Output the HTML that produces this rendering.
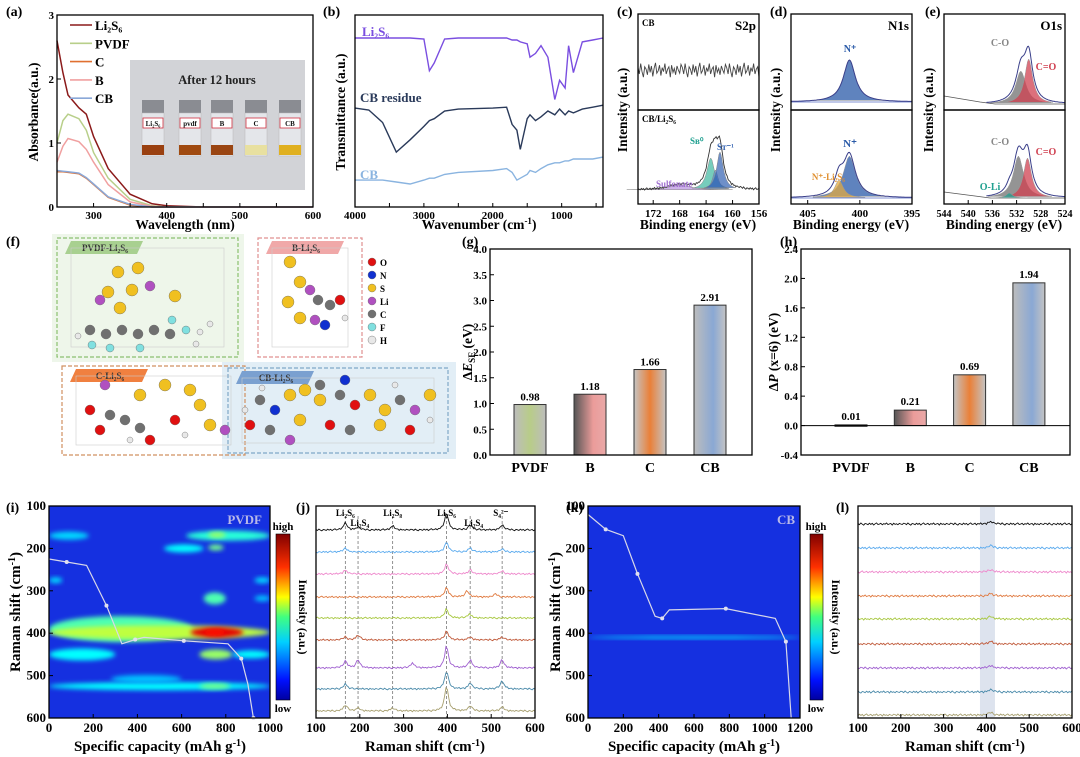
<!DOCTYPE html>
<html><head><meta charset="utf-8"><title>Li2S6 adsorption figure</title>
<style>
html,body{margin:0;padding:0;background:#fff;}
svg{display:block;font-family:"Liberation Serif","Noto Serif CJK SC",serif;font-weight:bold;}
</style></head>
<body>
<svg id="fig" width="1080" height="757" viewBox="0 0 1080 757" xmlns="http://www.w3.org/2000/svg">
<defs>
<filter id="blur" x="-20%" y="-50%" width="140%" height="200%"><feGaussianBlur stdDeviation="2.5"/></filter>
<linearGradient id="jetGrad" x1="0" y1="1" x2="0" y2="0">
<stop offset="0" stop-color="#0000a0"/><stop offset="0.12" stop-color="#0010ff"/><stop offset="0.35" stop-color="#00d0ff"/><stop offset="0.5" stop-color="#40ff80"/><stop offset="0.62" stop-color="#ffff00"/><stop offset="0.8" stop-color="#ff3000"/><stop offset="1" stop-color="#800000"/>
</linearGradient>
<linearGradient id="gPVDF" x1="0" x2="1"><stop offset="0" stop-color="#bdbdbd"/><stop offset="0.5" stop-color="#b8cc88"/><stop offset="1" stop-color="#bdbdbd"/></linearGradient>
<linearGradient id="gB" x1="0" x2="1"><stop offset="0" stop-color="#555"/><stop offset="0.6" stop-color="#eb9c9a"/><stop offset="1" stop-color="#e9a9a8"/></linearGradient>
<linearGradient id="gC" x1="0" x2="1"><stop offset="0" stop-color="#c4c4c4"/><stop offset="0.5" stop-color="#ea8038"/><stop offset="1" stop-color="#c4c4c4"/></linearGradient>
<linearGradient id="gCB" x1="0" x2="1"><stop offset="0" stop-color="#bdbdbd"/><stop offset="0.6" stop-color="#8aa8d4"/><stop offset="1" stop-color="#c4c4c4"/></linearGradient>
<clipPath id="clipI"><rect x="49" y="506" width="221" height="212"/></clipPath>
<clipPath id="clipK"><rect x="588" y="506" width="212" height="212"/></clipPath>
</defs>

<g font-size="14">
<text x="6" y="16">(a)</text><text x="323" y="16">(b)</text><text x="617" y="16">(c)</text>
<text x="770" y="16">(d)</text><text x="925" y="16">(e)</text>
<text x="6" y="246">(f)</text><text x="462" y="246">(g)</text><text x="780" y="246">(h)</text>
<text x="6" y="512">(i)</text><text x="296" y="512">(j)</text><text x="566" y="512">(k)</text><text x="836" y="512">(l)</text>
</g>

<g id="photo">
<rect x="130" y="60" width="175" height="130" fill="#d2d3d7"/>
<text x="217" y="84" font-size="12.5" text-anchor="middle" fill="#222">After 12 hours</text>
</g>

<g id="layer"></g>

<g font-size="13.5" fill="#000">
<text x="185" y="229" text-anchor="middle">Wavelength (nm)</text>
<text transform="translate(38,112) rotate(-90)" text-anchor="middle">Absorbance(a.u.)</text>
<text x="479" y="229" text-anchor="middle">Wavenumber (cm<tspan font-size="9" dy="-5">-1</tspan><tspan dy="5">)</tspan></text>
<text transform="translate(345,112) rotate(-90)" text-anchor="middle">Transmittance (a.u.)</text>
<text transform="translate(627,110) rotate(-90)" text-anchor="middle">Intensity (a.u.)</text>
<text transform="translate(780,110) rotate(-90)" text-anchor="middle">Intensity (a.u.)</text>
<text transform="translate(933,110) rotate(-90)" text-anchor="middle">Intensity (a.u.)</text>
<text x="698" y="229" text-anchor="middle">Binding energy (eV)</text>
<text x="851" y="229" text-anchor="middle">Binding energy (eV)</text>
<text x="1004" y="229" text-anchor="middle">Binding energy (eV)</text>
<text transform="translate(472,352) rotate(-90)" text-anchor="middle">Δ<tspan font-style="italic">E</tspan><tspan font-size="9" dy="3">SE</tspan><tspan dy="-3"> (eV)</tspan></text>
<text transform="translate(778,352) rotate(-90)" text-anchor="middle">Δ<tspan font-style="italic">P</tspan> (x=6) (eV)</text>
<text transform="translate(20,612) rotate(-90)" text-anchor="middle" font-size="15">Raman shift (cm<tspan font-size="10" dy="-5">-1</tspan><tspan dy="5">)</tspan></text>
<text transform="translate(560,612) rotate(-90)" text-anchor="middle" font-size="15">Raman shift (cm<tspan font-size="10" dy="-5">-1</tspan><tspan dy="5">)</tspan></text>
<text x="160" y="751" text-anchor="middle" font-size="15">Specific capacity (mAh g<tspan font-size="10" dy="-5">-1</tspan><tspan dy="5">)</tspan></text>
<text x="694" y="751" text-anchor="middle" font-size="15">Specific capacity (mAh g<tspan font-size="10" dy="-5">-1</tspan><tspan dy="5">)</tspan></text>
<text x="425" y="751" text-anchor="middle" font-size="15">Raman shift (cm<tspan font-size="10" dy="-5">-1</tspan><tspan dy="5">)</tspan></text>
<text x="965" y="751" text-anchor="middle" font-size="15">Raman shift (cm<tspan font-size="10" dy="-5">-1</tspan><tspan dy="5">)</tspan></text>
<text transform="translate(299,617) rotate(90)" text-anchor="middle" font-size="12">Intensity (a.u.)</text>
<text transform="translate(832,617) rotate(90)" text-anchor="middle" font-size="12">Intensity (a.u.)</text>
</g>

<g>
<rect x="276" y="534" width="14" height="166" fill="url(#jetGrad)" stroke="#000" stroke-width="0.6"/>
<text x="283" y="530" font-size="11" text-anchor="middle">high</text>
<text x="283" y="712" font-size="11" text-anchor="middle">low</text>
</g>
<g>
<rect x="810" y="534" width="13" height="166" fill="url(#jetGrad)" stroke="#000" stroke-width="0.6"/>
<text x="816" y="530" font-size="11" text-anchor="middle">high</text>
<text x="816" y="712" font-size="11" text-anchor="middle">low</text>
</g>

<script>
const absWl = [250,258,265,280,290,300,320,350,380,400,450,600];
const absLi2S6 = [2.6,2.1,1.75,1.55,1.45,1.1,0.6,0.2,0.05,0.02,0.0,0.0];
const absPVDF  = [1.0,1.35,1.45,1.38,1.2,0.85,0.45,0.12,0.02,0.0,0.0,0.0];
const absC     = [0.55,0.55,0.54,0.52,0.45,0.35,0.15,0.03,0.0,0.0,0.0,0.0];
const absB     = [0.7,0.95,1.07,1.02,0.9,0.7,0.35,0.08,0.01,0.0,0.0,0.0];
const absCB    = [0.57,0.56,0.55,0.53,0.46,0.36,0.16,0.04,0.0,0.0,0.0,0.0];

const irWn = [4000,3800,3600,3400,3200,3000,2920,2850,2700,2500,2000,1800,1720,1650,1600,1500,1460,1380,1300,1200,1100,1030,950,900,830,700,550,400];
const irLi2S6 = [88,88,88,88,88,87.5,71,75,87.5,88,88,88,87,87,86,85,78,80,84,78,56,66,62,84,70,86,87,88];
const irCBres = [51.5,50.5,44,28.6,35,42,45,46,50,51,51.5,52,43,40,30,46,48,45,47,50,48,51,48,50,49,51,52,53];
const irCB    = [14,14,14,13,12,14,15,15,17,18,19,20,18,14,15,17,19,18,20,22,23,23,24,24,25,25,25,26];
const FTIR_NAMES = ['Li2S6','CB residue','CB'];

const barCats = ['PVDF','B','C','CB'];
const esEnergy = [0.98,1.18,1.66,2.91];
const dPEnergy = [0.01,0.21,0.69,1.94];
const barTicksG = [0,0.5,1,1.5,2,2.5,3,3.5,4];
const barTicksH = [-0.4,0,0.4,0.8,1.2,1.6,2.0,2.4];

const s2pBottom = [[168,5,2.0],[163.3,32,0.7],[162.6,20,0.5],[161.9,38,0.6]];
const n1sTop = [[401,42,0.7]];
const n1sBottom = [[401,42,0.7],[402,18,0.5]];
const o1sTop = [[531.3,33,1.0],[530,45,0.8]];
const o1sBottom = [[531.7,42,1.0],[530.2,40,0.8],[533.2,5,0.6]];

const hmPVDF = [
 [0,650,390,0.4,13],[0,1000,398,0.55,7],[640,880,398,1.0,5],[700,800,398,0.95,3],
 [0,300,450,0.3,6],[680,830,450,0.5,5],[830,1000,450,0.3,4],
 [0,180,170,0.25,4],[620,1000,170,0.35,5],[720,800,168,0.5,3],
 [520,700,200,0.3,4],[720,790,198,0.45,3],
 [700,800,318,0.4,6],[930,1000,318,0.22,3],
 [0,1000,525,0.3,4],[680,820,525,0.45,3],[0,60,275,0.25,3],[930,1000,275,0.25,3],[280,600,508,0.22,4]];
const hmCB = [[0,1200,410,0.25,1.5]];
const vPVDFcap = [0,80,170,260,330,390,430,610,810,870,900,925];
const vPVDFsh  = [225,232,240,335,425,415,410,418,425,460,520,600];
const vCBcap = [0,100,200,280,380,420,460,780,1060,1120,1150];
const vCBsh  = [120,155,170,260,360,365,345,342,365,420,600];

const ramanBase = [530,552,574,597,618,640,668,689,711];
const ramanColors = ['#111','#5aaaee','#ee88cc','#e07a40','#a8c840','#c05a3a','#a060d0','#4a8aaa','#a8a070'];
const ramanPeaks = [
 [[167,7],[196,3],[275,4],[398,17],[452,5],[525,5]],
 [[167,4],[398,10],[452,4],[525,3]],
 [[167,4],[398,10],[452,4],[525,3]],
 [[398,9],[445,6],[510,3]],
 [[398,9],[450,4]],
 [[167,3],[196,5],[398,9],[452,3],[525,3]],
 [[167,7],[196,8],[320,5],[398,22],[452,8],[525,8]],
 [[167,5],[398,18],[452,6],[525,8]],
 [[167,6],[196,3],[275,3],[398,25],[452,5],[525,4]]];
const ramanMarks = [167,196,275,398,452,525];
const lBase = [524,548,572,596,619,644,668,692,715];

const JIT=[0.3,-0.5,0.8,-0.2,-0.9,0.4,0.1,-0.6,0.7,-0.3,0.5,-0.8,0.2,0.9,-0.4,-0.1,0.6,-0.7,0.3,-0.2,0.8,-0.5,0.1,0.4,-0.9,0.6,-0.3,0.2,-0.6,0.5,0.0,-0.4,0.7];

const NS='http://www.w3.org/2000/svg';
const layer=document.getElementById('layer');
function el(tag,attrs,parent){const e=document.createElementNS(NS,tag);for(const k in attrs)e.setAttribute(k,attrs[k]);(parent||layer).appendChild(e);return e;}
function pd(xs,ys,fx,fy){return xs.map((x,i)=>(i?'L':'M')+fx(x).toFixed(1)+','+fy(ys[i]).toFixed(1)).join('');}
function spec(x0,x1,n,peaks,noise,off,wdef){const xs=[],ys=[];for(let i=0;i<=n;i++){const x=x0+(x1-x0)*i/n;let y=0;peaks.forEach(p=>{const w=p[2]||wdef;y+=p[1]/(1+((x-p[0])/w)**2);});y+=noise*JIT[(i+off)%JIT.length];xs.push(x);ys.push(y);}return [xs,ys];}
function txt(x,y,s,size,anchor,fill,parent){const t=el('text',{x:x,y:y,'font-size':size,'text-anchor':anchor||'middle',fill:fill||'#000'},parent);t.textContent=s;return t;}
function frame(x,y,w,h,name){const r=el('rect',{x:x,y:y,width:w,height:h,fill:'none',stroke:'#000','stroke-width':1.3});

return r;}
function xTicks(vals,fx,yb,labels,ly,size){vals.forEach((v,i)=>{el('line',{x1:fx(v),x2:fx(v),y1:yb,y2:yb-4,stroke:'#000','stroke-width':1});if(labels)txt(fx(v),ly,labels[i],size||11);});}
function yTicks(vals,fy,xl,labels,size){vals.forEach((v,i)=>{el('line',{x1:xl,x2:xl+4,y1:fy(v),y2:fy(v),stroke:'#000','stroke-width':1});if(labels)txt(xl-3,fy(v)+4,labels[i],size||11,'end');});}

// (a)
const ax=w=>57+(w-250)*(256/350), ay=v=>207-v*64;
const absSeries=[[absLi2S6,'#8b1a1a','Li₂S₆','uv-li2s6'],[absPVDF,'#b8cf8a','PVDF','uv-pvdf'],[absC,'#e07030','C','uv-c'],[absB,'#f0a0a0','B','uv-b'],[absCB,'#8aa8d8','CB','uv-cb']];
absSeries.forEach((s,i)=>{
 const p=el('path',{d:pd(absWl,s[0],ax,ay),fill:'none',stroke:s[1],'stroke-width':1.5});
 
 
 const ly=25+i*18.3;
 const l=el('line',{x1:70,x2:92,y1:ly,y2:ly,stroke:s[1],'stroke-width':1.6});
 
 
 const t=txt(95,ly+5,s[2],13,'start');
 
 
});
frame(57,15,256,192,'uv-axes');
xTicks([300,400,500,600],ax,207,['300','400','500','600'],219);
xTicks([350,450,550],ax,207,null);
yTicks([0,1,2,3],ay,57,['0','1','2','3']);
const photo=document.getElementById('photo');
const vialX=[153,190,222,256,290], vialLab=['Li₂S₆','pvdf','B','C','CB'], vialLiq=['#9a4010','#a04a10','#9a4512','#e8e0a0','#e0b020'];
vialX.forEach((x,i)=>{
 const g=el('g',{},photo);
 
 
 el('rect',{x:x-11,y:100,width:22,height:13,fill:'#8a8c92'},g);
 el('rect',{x:x-11,y:113,width:22,height:43,fill:'#e4e6ea',stroke:'#b8b8b8','stroke-width':0.5},g);
 el('rect',{x:x-11,y:145,width:22,height:10,fill:vialLiq[i]},g);
 el('rect',{x:x-10,y:118,width:20,height:10,fill:'#fff',stroke:'#d03040','stroke-width':0.8},g);
 txt(x,126,vialLab[i],7,'middle','#111',g);
});

// (b)
const bx=w=>355+(4000-w)*(248/3600), by=v=>207-v*1.92;
[[irLi2S6,'#7a4ee0'],[irCBres,'#2a3a5a'],[irCB,'#8ab4e0']].forEach((s,i)=>{
 const p=el('path',{d:pd(irWn,s[0],bx,by),fill:'none',stroke:s[1],'stroke-width':1.4});
 
 
});
txt(362,36,'Li₂S₆',13,'start','#7a4ee0');
txt(360,102,'CB residue',13,'start','#2a3a5a');
txt(360,179,'CB',13,'start','#8ab4e0');
frame(355,15,248,192,'ftir-axes');
xTicks([4000,3000,2000,1000],bx,207,['4000','3000','2000','1000'],219);
xTicks([3500,2500,1500,500],bx,207,null);

// (c)
const cx=e=>638+(174.3-e)*(121/18.3);
let [cxs,cys]=spec(174.3,156,90,[],8,0,1);
let p=el('path',{d:pd(cxs,cys,cx,v=>70-v),fill:'none',stroke:'#444','stroke-width':0.9});


s2pBottom.forEach((pk,i)=>{const [xs,ys]=spec(pk[0]-4*pk[2],pk[0]+4*pk[2],30,[pk],0,0,1);
 const cols=['#b890e0','#3cb8a0','#5a8ad0','#3060b0'];
 const f=el('path',{d:pd(xs,ys,cx,v=>190-v)+'Z',fill:cols[i],'fill-opacity':0.7,stroke:'#888','stroke-width':0.5});
 
 });
[cxs,cys]=spec(174.3,156,110,s2pBottom,1.2,5,1);
p=el('path',{d:pd(cxs,cys,cx,v=>190-v),fill:'none',stroke:'#333','stroke-width':0.9});


frame(638,14,121,96,'s2p-top-axes');frame(638,110,121,94,'s2p-bottom-axes');
txt(642,26,'CB',9,'start');txt(756,30,'S2p',13,'end');txt(642,122,'CB/Li₂S₆',9,'start');
txt(656,187,'Sulfonate',9,'start','#a070d0');txt(690,144,'Sʙ⁰',9,'start','#20a090');txt(717,150,'Sᴛ⁻¹',9,'start','#3060b0');
xTicks([172,168,164,160,156],cx,204,['172','168','164','160','156'],217);

// (d)
const dx=e=>791+(406.6-e)*(121/11.6);
function xps(fx,peaks,base,range,cols,name,x0,x1){
 peaks.forEach((pk,i)=>{const [xs,ys]=spec(pk[0]-5*pk[2],pk[0]+5*pk[2],40,[pk],0,0,1);
  const f=el('path',{d:pd(xs,ys,fx,v=>base-v)+'Z',fill:cols[i],'fill-opacity':0.75,stroke:'#999','stroke-width':0.5});
  
  });
 const [xs,ys]=spec(x0,x1,120,peaks,0,0,1);
 const e=el('path',{d:pd(xs,ys,fx,v=>base-v),fill:'none',stroke:'#3a3f8a','stroke-width':1});
 
 
}
el('line',{x1:791,x2:912,y1:102,y2:102,stroke:'#8090d0','stroke-width':1});
el('line',{x1:791,x2:912,y1:198,y2:198,stroke:'#8090d0','stroke-width':1});
xps(dx,n1sTop,102,0,['#2a5aa8'],'n1s-top',406.6,395);
xps(dx,n1sBottom,198,0,['#2a5aa8','#e0a840'],'n1s-bottom',406.6,395);
frame(791,14,121,96,'n1s-top-axes');frame(791,110,121,94,'n1s-bottom-axes');
txt(909,30,'N1s',13,'end');txt(850,52,'N⁺',10,'middle','#2a5aa8');txt(850,147,'N⁺',11,'middle','#2a5aa8');
txt(845,180,'N⁺-Li₂S₆',9,'end','#e09030');
xTicks([405,400,395],dx,204,['405','400','395'],217);

// (e)
const ex=e=>944+(544-e)*(121/20);
el('path',{d:'M944,96 L980,102 L995,104 L1065,104',fill:'none',stroke:'#555','stroke-width':0.8});
el('path',{d:'M944,192 L975,196 L990,198 L1065,198',fill:'none',stroke:'#555','stroke-width':0.8});
xps(ex,o1sTop,104,0,['#707070','#d04050'],'o1s-top',537,524);
xps(ex,o1sBottom,198,0,['#707070','#d04050','#20a090'],'o1s-bottom',537,524);
frame(944,14,121,96,'o1s-top-axes');frame(944,110,121,94,'o1s-bottom-axes');
txt(1062,30,'O1s',13,'end');txt(1000,46,'C-O',10,'middle','#888');txt(1046,70,'C=O',10,'middle','#d04050');
txt(1000,145,'C-O',10,'middle','#888');txt(1046,155,'C=O',10,'middle','#d04050');txt(990,190,'O-Li',10,'middle','#20a090');
xTicks([544,540,536,532,528,524],ex,204,['544','540','536','532','528','524'],217,10);

// (f)
const fcol={O:'#e01010',N:'#1030d0',S:'#f0c020',Li:'#b050c0',C:'#707070',F:'#80e0e0',H:'#e8e8e8'};
const frad={O:5,N:5,S:6,Li:5,C:5,F:4,H:3};
el('rect',{x:52,y:234,width:192,height:128,fill:'#eef6ea'});
el('rect',{x:222,y:362,width:234,height:97,fill:'#e2eef6'});
[[57,238,181,119,'#8cc070','PVDF-Li₂S₆','#a8d090'],[258,238,104,119,'#e09090','B-Li₂S₆','#f0a8a8'],[62,366,183,89,'#d09060','C-Li₂S₆','#f08040'],[228,368,220,85,'#80a8c8','CB-Li₂S₆','#7aa0d0']].forEach(b=>{
 const r=el('rect',{x:b[0],y:b[1],width:b[2],height:b[3],fill:'none',stroke:b[4],'stroke-width':1.2,'stroke-dasharray':'4,2'});
 
 
 el('path',{d:`M${b[0]+8},${b[1]+16} l6,-13 h72 l-6,13 z`,fill:b[6]});
 txt(b[0]+48,b[1]+13,b[5],9,'middle','#333');
 el('rect',{x:b[0]+14,y:b[1]+10,width:b[2]-28,height:b[3]-20,fill:'none',stroke:'#ccc','stroke-width':0.6});
});
const atoms=[
 [118,272,'S'],[138,268,'S'],[108,292,'S'],[120,308,'S'],[132,290,'S'],[150,286,'Li'],[100,300,'Li'],[175,296,'S'],
 [90,330,'C'],[106,334,'C'],[122,330,'C'],[138,334,'C'],[154,330,'C'],[170,334,'C'],[92,345,'F'],[110,348,'F'],[140,348,'F'],[172,320,'F'],[186,330,'F'],[78,336,'H'],[200,332,'H'],[210,324,'H'],[196,344,'H'],
 [290,262,'S'],[300,282,'S'],[288,302,'S'],[300,318,'S'],[315,320,'Li'],[318,300,'C'],[330,305,'C'],[340,300,'O'],[325,325,'N'],[345,318,'H'],[310,290,'Li'],
 [90,410,'O'],[110,415,'C'],[125,420,'C'],[100,430,'O'],[140,428,'C'],[150,440,'O'],[105,385,'Li'],[140,395,'S'],[165,385,'S'],[190,390,'S'],[200,405,'S'],[210,425,'S'],[225,430,'Li'],[175,420,'O'],[185,435,'H'],[130,440,'H'],
 [260,400,'C'],[275,410,'N'],[290,395,'S'],[305,390,'S'],[320,400,'S'],[340,395,'C'],[355,405,'O'],[370,395,'S'],[385,410,'S'],[400,400,'C'],[415,410,'Li'],[430,395,'S'],[250,425,'O'],[270,430,'C'],[300,420,'S'],[330,425,'O'],[350,430,'C'],[380,425,'S'],[410,430,'O'],[290,440,'Li'],[320,385,'C'],[345,380,'N'],[262,388,'H'],[395,385,'H'],[245,410,'H'],[430,420,'H']];
atoms.forEach(a=>{const c=el('circle',{cx:a[0],cy:a[1],r:frad[a[2]],fill:fcol[a[2]],stroke:'#666','stroke-width':0.4});
 
 });
['O','N','S','Li','C','F','H'].forEach((k,i)=>{const c=el('circle',{cx:372,cy:262+i*13,r:4,fill:fcol[k],stroke:'#666','stroke-width':0.4});
 
 
 txt(380,266+i*13,k,9,'start');});

// (g)
const gx=i=>530+60*i, gy=v=>455-v*51.5;
const fills=['url(#gPVDF)','url(#gB)','url(#gC)','url(#gCB)'];
barCats.forEach((c,i)=>{
 const r=el('rect',{x:gx(i)-16,y:gy(esEnergy[i]),width:32,height:gy(0)-gy(esEnergy[i]),fill:fills[i],stroke:'#333','stroke-width':1});
 
 
 txt(gx(i),gy(esEnergy[i])-4,esEnergy[i].toFixed(2),11);
 txt(gx(i),472,c,14);
});
frame(490,249,262,206,'es-axes');
yTicks(barTicksG,gy,490,barTicksG.map(v=>v.toFixed(1)));

// (h)
const hx=i=>851+59.3*i, hy=v=>455-(v+0.4)*(206/2.8);
const hfills=['#333','url(#gB)','url(#gC)','url(#gCB)'];
barCats.forEach((c,i)=>{
 const top=hy(Math.max(dPEnergy[i],0)), bot=hy(Math.min(dPEnergy[i],0));
 const r=el('rect',{x:hx(i)-16,y:top,width:32,height:Math.max(bot-top,1.5),fill:hfills[i],stroke:'#333','stroke-width':1});
 
 
 txt(hx(i),top-5,dPEnergy[i].toFixed(2),11);
 txt(hx(i),472,c,14);
});
el('line',{x1:801,x2:1070,y1:hy(0),y2:hy(0),stroke:'#000','stroke-width':1});
frame(801,249,269,206,'dp-axes');
yTicks(barTicksH,hy,801,barTicksH.map(v=>v.toFixed(1)));

function jet(t){const c=x=>Math.round(255*Math.max(0,Math.min(1,x)));return `rgb(${c(1.5-Math.abs(4*t-3))},${c(1.5-Math.abs(4*t-2))},${c(1.5-Math.abs(4*t-1))})`;}

// (i)
const ix=c=>49+c*0.221, iy=s=>506+(s-100)*0.424;
const gi=el('g',{'clip-path':'url(#clipI)'});
el('rect',{x:49,y:506,width:221,height:212,fill:'#1530e0'},gi);
hmPVDF.forEach(b=>{const e=el('ellipse',{cx:(ix(b[0])+ix(b[1]))/2,cy:iy(b[2]),rx:(ix(b[1])-ix(b[0]))/2,ry:b[4],fill:jet(0.15+0.75*b[3]),filter:'url(#blur)'},gi);
 
 });
p=el('path',{d:pd(vPVDFcap,vPVDFsh,ix,iy),fill:'none',stroke:'#d8d8e8','stroke-width':1.2});


vPVDFcap.forEach((c,i)=>{if(i%2===1)el('circle',{cx:ix(c),cy:iy(vPVDFsh[i]),r:2,fill:'#e0e0f0'});});
txt(262,524,'PVDF',13,'end','#b8b8e8');
frame(49,506,221,212,'heatmap-pvdf-axes');
xTicks([0,200,400,600,800,1000],ix,718,['0','200','400','600','800','1000'],732,13);
yTicks([100,200,300,400,500,600],iy,49,['100','200','300','400','500','600'],13);

// (j)
const jx=s=>316+(s-100)*0.438;
ramanMarks.forEach(m=>{el('line',{x1:jx(m),x2:jx(m),y1:516,y2:718,stroke:'#777','stroke-width':0.8,'stroke-dasharray':'3,2'});});
ramanPeaks.forEach((pk,i)=>{const [xs,ys]=spec(100,600,150,pk,1.0,i*3,5);
 const q=el('path',{d:pd(xs,ys,jx,v=>ramanBase[i]-v),fill:'none',stroke:ramanColors[i],'stroke-width':0.9});
 
 });
frame(316,506,219,212,'raman-pvdf-axes');
txt(jx(167),516,'Li₂S₆',9);txt(jx(200),526,'Li₂S₄',9);txt(jx(275),516,'Li₂S₈',9);txt(jx(398),516,'Li₂S₆',9);txt(jx(460),526,'Li₂S₄',9);txt(jx(522),516,'S₄²⁻',9);
xTicks([100,200,300,400,500,600],jx,718,['100','200','300','400','500','600'],732,13);

// (k)
const kx=c=>588+c*(212/1200);
const gk=el('g',{'clip-path':'url(#clipK)'});
el('rect',{x:588,y:506,width:212,height:212,fill:'#1530e0'},gk);
hmCB.forEach(b=>{const e=el('ellipse',{cx:(kx(b[0])+kx(b[1]))/2,cy:iy(b[2]),rx:(kx(b[1])-kx(b[0]))/2,ry:b[4],fill:jet(0.15+0.75*b[3]),filter:'url(#blur)'},gk);
 
 });
p=el('path',{d:pd(vCBcap,vCBsh,kx,iy),fill:'none',stroke:'#d8d8e8','stroke-width':1.2});


vCBcap.forEach((c,i)=>{if(i%2===1)el('circle',{cx:kx(c),cy:iy(vCBsh[i]),r:2,fill:'#e0e0f0'});});
txt(795,524,'CB',13,'end','#b8b8e8');
frame(588,506,212,212,'heatmap-cb-axes');
xTicks([0,200,400,600,800,1000,1200],kx,718,['0','200','400','600','800','1000','1200'],732,13);
yTicks([100,200,300,400,500,600],iy,588,['100','200','300','400','500','600'],13);

// (l)
const lx=s=>858+(s-100)*0.428;
el('rect',{x:lx(385),y:507,width:lx(420)-lx(385),height:210,fill:'#dde3ee'});
lBase.forEach((b,i)=>{const [xs,ys]=spec(100,600,150,[[410,2.5]],1.2,i*5,6);
 const q=el('path',{d:pd(xs,ys,lx,v=>b-v),fill:'none',stroke:ramanColors[i],'stroke-width':0.9});
 
 });
frame(858,506,214,212,'raman-cb-axes');
xTicks([100,200,300,400,500,600],lx,718,['100','200','300','400','500','600'],732,13);
</script>
</svg>
</body></html>
